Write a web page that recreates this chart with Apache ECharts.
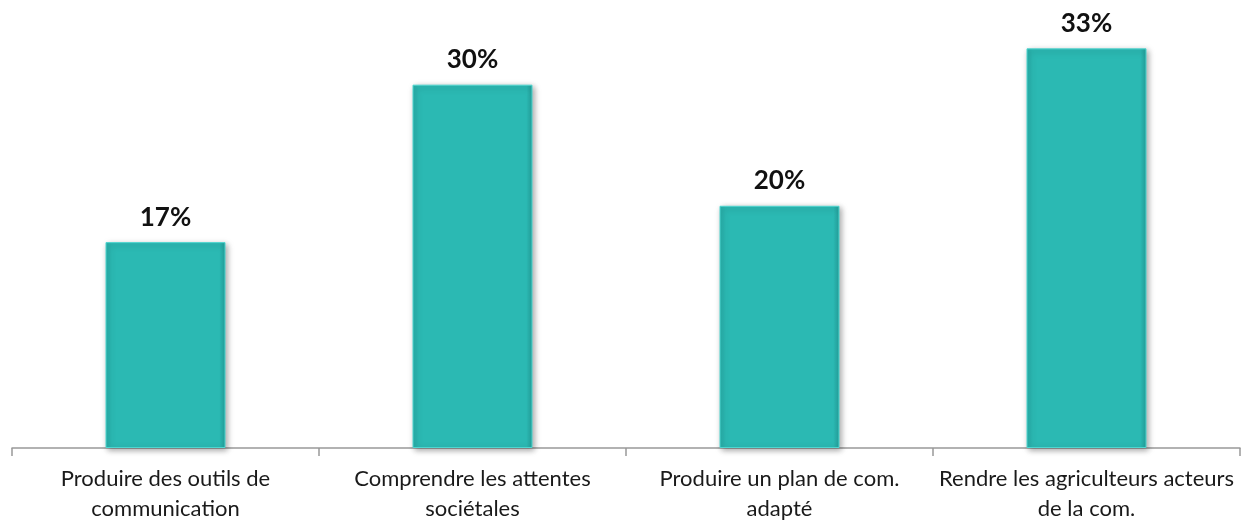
<!DOCTYPE html>
<html><head><meta charset="utf-8">
<script src="https://cdn.jsdelivr.net/npm/echarts@6/dist/echarts.min.js"></script>
<style>html,body{margin:0;padding:0;background:#fff}#c{width:1242px;height:521px}</style>
</head><body><div id="c"></div>
<script>
const categories = ["Produire des outils de\ncommunication", "Comprendre les attentes\nsociétales", "Produire un plan de com.\nadapté", "Rendre les agriculteurs acteurs\nde la com."];
const values = [17, 30, 20, 33];
const chart = echarts.init(document.getElementById('c'));
chart.setOption({
  animation: false,
  grid: {left: 12, right: 2, top: 12, bottom: 73, containLabel: false, outerBoundsMode: 'none'},
  xAxis: {
    type: 'category', data: categories,
    axisLine: {lineStyle: {color: '#999', width: 1.5}},
    axisTick: {show: true, length: 8, lineStyle: {color: '#999', width: 1.5}},
    axisLabel: {fontFamily: 'Lato, "Open Sans", sans-serif', fontSize: 22, color: '#1a1a1a', lineHeight: 30, margin: 16, interval: 0}
  },
  yAxis: {type: 'value', min: 0, max: 36, show: false, splitLine: {show: false}},
  series: [{
    type: 'bar', data: values, barWidth: 120,
    itemStyle: {
      color: {type: 'linear', x: 0, y: 0, x2: 1, y2: 0, colorStops: [
        {offset: 0, color: '#27ADA8'}, {offset: 0.05, color: '#2BB9B3'}, {offset: 0.95, color: '#2BB9B3'}, {offset: 1, color: '#239E99'}]},
      borderColor: '#4FD6D0', borderWidth: 1,
      shadowColor: 'rgba(0,0,0,0.35)', shadowBlur: 6, shadowOffsetX: 2, shadowOffsetY: 2
    },
    label: {show: true, position: 'top', distance: 12, formatter: '{c}%', fontFamily: 'Lato, "Open Sans", sans-serif', fontWeight: 'bold', fontSize: 26, color: '#111'}
  }]
});
</script></body></html>
